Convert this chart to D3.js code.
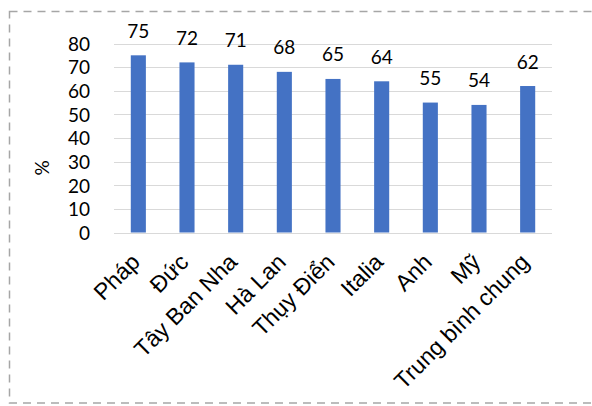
<!DOCTYPE html>
<html>
<head>
<meta charset="utf-8">
<script src="https://cdn.jsdelivr.net/npm/d3@7"></script>
<style>
  html, body { margin: 0; padding: 0; background: #fff; }
  svg { display: block; }
</style>
</head>
<body>
<script>
// Share of respondents (%) by country
const categories = ["Pháp", "Đức", "Tây Ban Nha", "Hà Lan", "Thụy Điển", "Italia", "Anh", "Mỹ", "Trung bình chung"];
const values = [75, 72, 71, 68, 65, 64, 55, 54, 62];
const yTicks = [0, 10, 20, 30, 40, 50, 60, 70, 80];
const yLabel = "%";

const W = 592, H = 406;
const plot = { left: 114, right: 552, top: 43.5, bottom: 232.5 };

const svg = d3.select("body").append("svg")
  .attr("width", W).attr("height", H);

// Dashed frame around the chart area
svg.append("rect")
  .attr("x", 9.5).attr("y", 11.5)
  .attr("width", 620).attr("height", 391.5)
  .attr("fill", "none")
  .attr("stroke", "#a6a6a6")
  .attr("stroke-width", 1.5)
  .attr("stroke-dasharray", "8,6");

const x = d3.scaleBand()
  .domain(categories)
  .range([plot.left, plot.right])
  .paddingInner(0.69)
  .paddingOuter(0.345);

const y = d3.scaleLinear()
  .domain([0, 80])
  .range([plot.bottom, plot.top]);

// Horizontal gridlines
svg.append("g")
  .selectAll("line")
  .data(yTicks)
  .join("line")
  .attr("x1", plot.left).attr("x2", plot.right)
  .attr("y1", d => Math.round(y(d)) + 0.5)
  .attr("y2", d => Math.round(y(d)) + 0.5)
  .attr("stroke", "#d9d9d9")
  .attr("stroke-width", 1);

// Y axis labels
const yAxis = d3.axisLeft(y).tickValues(yTicks).tickSize(0).tickPadding(0);
const gy = svg.append("g")
  .attr("transform", `translate(${plot.left - 24},0)`)
  .call(yAxis);
gy.select(".domain").remove();
gy.selectAll("text")
  .attr("font-family", "Lato, 'Open Sans', sans-serif")
  .attr("font-size", 19)
  .attr("fill", "#000")
  .attr("dy", "0.36em");

// Y axis title
svg.append("text")
  .attr("transform", "translate(49,168) rotate(-90)")
  .attr("text-anchor", "middle")
  .attr("font-family", "Lato, 'Open Sans', sans-serif")
  .attr("font-size", 19)
  .attr("fill", "#000")
  .text(yLabel);

// Bars
svg.append("g")
  .selectAll("rect")
  .data(values)
  .join("rect")
  .attr("x", (d, i) => x(categories[i]))
  .attr("y", d => y(d))
  .attr("width", x.bandwidth())
  .attr("height", d => y(0) - y(d))
  .attr("fill", "#4472c4");

// Value labels
svg.append("g")
  .selectAll("text")
  .data(values)
  .join("text")
  .attr("x", (d, i) => x(categories[i]) + x.bandwidth() / 2)
  .attr("y", d => y(d) - 17.5)
  .attr("text-anchor", "middle")
  .attr("font-family", "Lato, 'Open Sans', sans-serif")
  .attr("font-size", 19)
  .attr("fill", "#000")
  .text(d => d);

// Category axis with rotated labels
const xAxis = d3.axisBottom(x).tickSize(0).tickPadding(0);
const gx = svg.append("g")
  .attr("transform", `translate(0,${plot.bottom})`)
  .call(xAxis);
gx.select(".domain").remove();
gx.selectAll("text")
  .attr("font-family", "'Liberation Sans', Arial, sans-serif")
  .attr("font-size", 23)
  .attr("fill", "#000")
  .attr("text-anchor", "end")
  .attr("dy", null)
  .attr("y", 0)
  .attr("transform", "translate(3,31) rotate(-45)");
</script>
</body>
</html>
